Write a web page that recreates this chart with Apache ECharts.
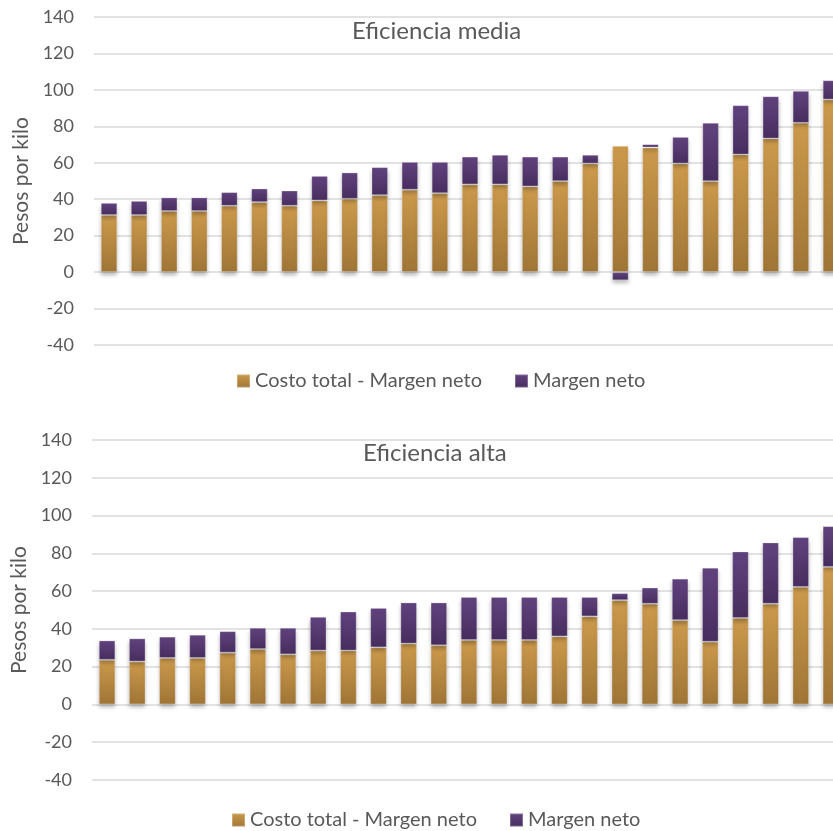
<!DOCTYPE html>
<html>
<head>
<meta charset="utf-8">
<script src="https://cdn.jsdelivr.net/npm/echarts@6/dist/echarts.min.js"></script>
<style>
  html, body { margin: 0; padding: 0; background: #fff; }
  #chart { width: 833px; height: 831px; }
</style>
</head>
<body>
<div id="chart"></div>
<script>
// 25 productores por panel, ordenados por costo total
var categories = ['1', '2', '3', '4', '5', '6', '7', '8', '9', '10', '11', '12', '13',
  '14', '15', '16', '17', '18', '19', '20', '21', '22', '23', '24', '25']
var yTicks = [-40, 140, 20]

// Eficiencia media
var mediaCosto = [31.3, 31.3, 33.5, 33.5, 36.4, 38.4, 36.4, 39.3, 40.2, 42.2, 45.2, 43.3, 48.1,
  48.1, 47.0, 49.9, 59.6, 69.3, 68.4, 59.6, 49.9, 64.5, 73.3, 81.9, 94.7]
var mediaMargen = [6.7, 7.8, 7.5, 7.5, 7.5, 7.5, 8.4, 13.5, 14.5, 15.4, 15.3, 17.2, 15.3,
  16.3, 16.4, 13.5, 4.8, -4.5, 1.8, 14.6, 32.0, 27.1, 23.2, 17.6, 10.6]

// Eficiencia alta
var altaCosto = [23.6, 22.7, 24.6, 24.6, 27.4, 29.3, 26.5, 28.5, 28.5, 30.2, 32.2, 31.3, 34.1,
  34.1, 34.1, 36.0, 46.6, 55.2, 53.3, 44.6, 33.2, 45.7, 53.3, 62.2, 72.8]
var altaMargen = [10.3, 12.3, 11.3, 12.3, 11.4, 11.3, 14.1, 17.9, 20.7, 20.9, 21.8, 22.7, 22.8,
  22.8, 22.8, 20.9, 10.3, 3.7, 8.6, 22.0, 39.2, 35.3, 32.5, 26.4, 21.6]

var font = 'Lato, "Open Sans", sans-serif'
var textColor = '#595959'

function grad (top, bottom) {
  return new echarts.graphic.LinearGradient(0, 0, 0, 1, [
    {offset: 0, color: top},
    {offset: 1, color: bottom}
  ])
}
var orange = grad('#CC9A4C', '#9F7536')
var purple = grad('#62437F', '#472D5E')

function yAxis (idx) {
  return {
    gridIndex: idx,
    type: 'value',
    min: yTicks[0],
    max: yTicks[1],
    interval: yTicks[2],
    name: 'Pesos por kilo',
    nameLocation: 'middle',
    nameGap: 60,
    nameTextStyle: {color: textColor, fontSize: 21, fontFamily: font},
    axisLine: {show: false},
    axisTick: {show: false},
    axisLabel: {color: textColor, fontSize: 18, fontFamily: font, margin: 20},
    splitLine: {lineStyle: {color: '#D9D9D9', width: 1.5}}
  }
}

function xAxis (idx) {
  return {
    gridIndex: idx,
    type: 'category',
    data: categories,
    axisLine: {show: false},
    axisTick: {show: false},
    axisLabel: {show: false}
  }
}

function bars (name, data, idx, color, stack) {
  return {
    name: name,
    type: 'bar',
    xAxisIndex: idx,
    yAxisIndex: idx,
    stack: stack,
    data: data,
    barWidth: '55%',
    itemStyle: {
      color: color,
      borderColor: 'rgba(255,255,255,0.25)',
      borderWidth: 1,
      shadowColor: 'rgba(0,0,0,0.28)',
      shadowBlur: 4,
      shadowOffsetY: 3
    }
  }
}

var legendText = {color: textColor, fontSize: 20, fontFamily: font}
var titleText = {color: textColor, fontSize: 24, fontWeight: 'normal', fontFamily: font}

var chart = echarts.init(document.getElementById('chart'))
chart.setOption({
  animation: false,
  color: ['#B8863F', '#553A72'],
  title: [
    {text: 'Eficiencia media', left: 347, top: 14, textStyle: titleText},
    {text: 'Eficiencia alta', left: 358, top: 436, textStyle: titleText}
  ],
  legend: [
    {top: 366, left: 231, itemWidth: 13, itemHeight: 13, itemGap: 32, icon: 'rect',
      textStyle: legendText, data: ['Costo total - Margen neto', 'Margen neto']},
    {top: 805, left: 226, itemWidth: 13, itemHeight: 13, itemGap: 32, icon: 'rect',
      textStyle: legendText, data: ['Costo total - Margen neto', 'Margen neto']}
  ],
  // the last bar runs past the right edge, as in the source figure
  grid: [
    {left: 94, width: 752, top: 17, height: 328, outerBoundsMode: 'none'},
    {left: 92, width: 754, top: 440, height: 340, outerBoundsMode: 'none'}
  ],
  xAxis: [xAxis(0), xAxis(1)],
  yAxis: [yAxis(0), yAxis(1)],
  series: [
    bars('Costo total - Margen neto', mediaCosto, 0, orange, 'media'),
    bars('Margen neto', mediaMargen, 0, purple, 'media'),
    bars('Costo total - Margen neto', altaCosto, 1, orange, 'alta'),
    bars('Margen neto', altaMargen, 1, purple, 'alta')
  ]
})
</script>
</body>
</html>
